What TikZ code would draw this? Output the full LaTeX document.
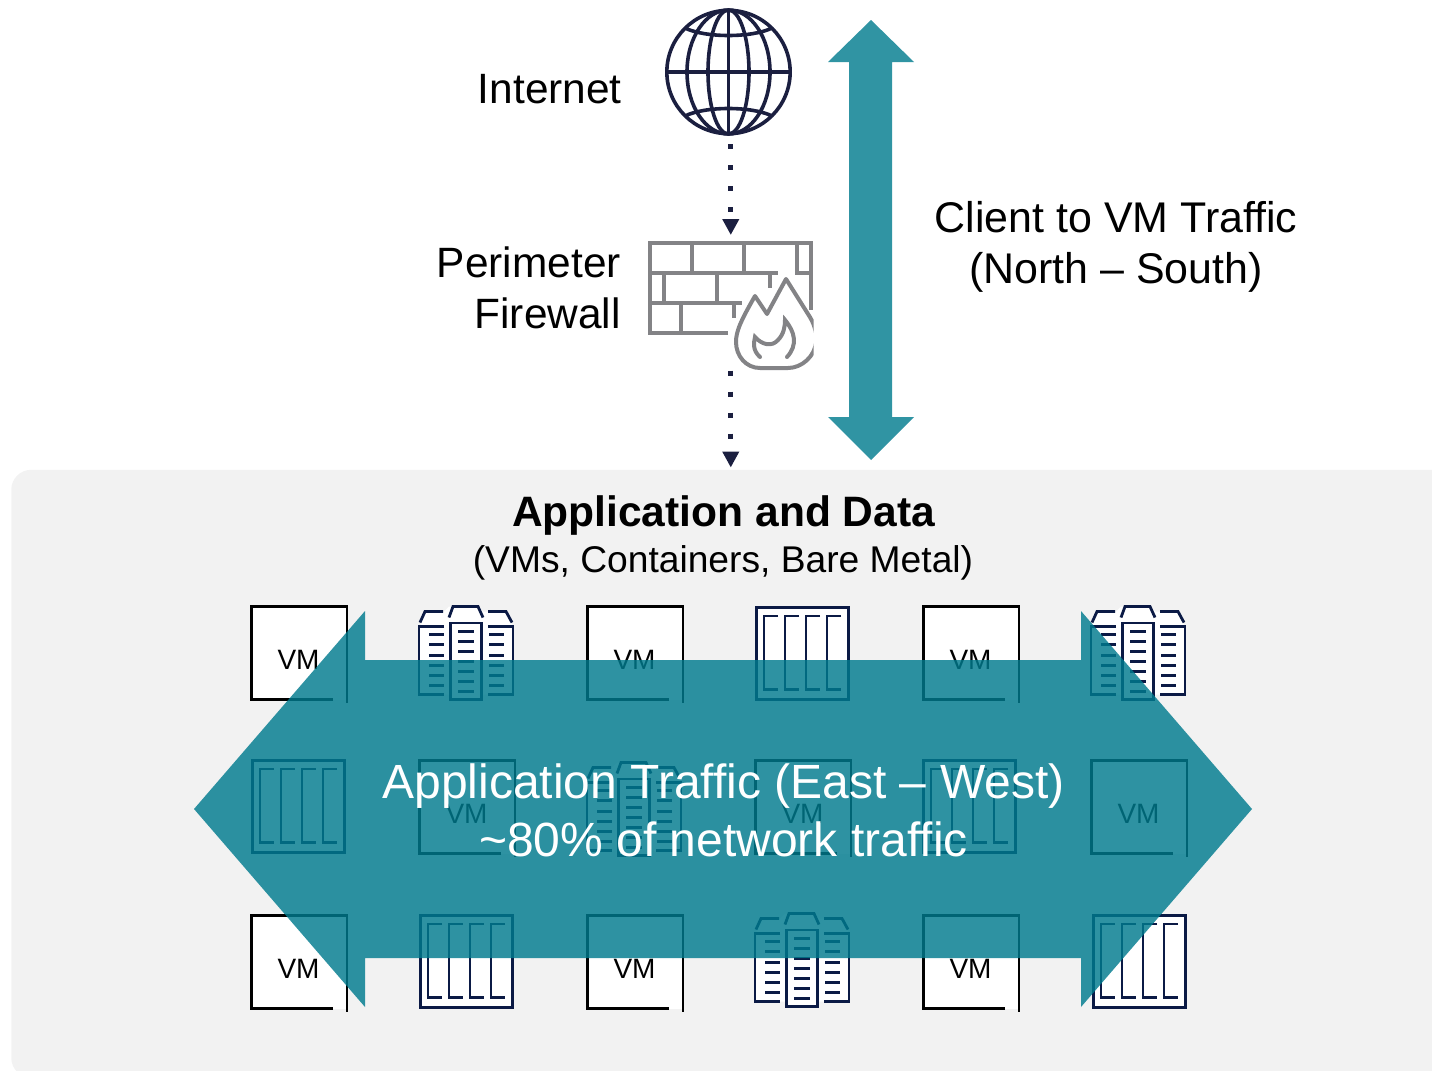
\documentclass[tikz,border=0pt]{standalone}
\usepackage{fontspec}
\setmainfont{Liberation Sans}
\usetikzlibrary{arrows.meta,calc}
\definecolor{tealink}{HTML}{007B8E}
\definecolor{navy}{HTML}{0B1A45}
\definecolor{globeink}{HTML}{1B1F40}
\definecolor{wallgray}{HTML}{838386}
\definecolor{panelgray}{HTML}{F2F2F2}
\newcommand{\fsz}[2]{\fontsize{#1pt}{#2pt}\selectfont}
\tikzset{
  px/.style={line width=#1*0.75pt},
  textlabel/.style={inner sep=0pt,text=black,font=\fsz{31.8}{38.25}},
  flowlink/.style={draw=globeink,px=5,dash pattern=on 3.75pt off 12pt,-{Triangle[length=12pt,width=12pt]}},
  bigarrow/.style={fill=tealink,opacity=0.81},
  vmline/.style={draw=black,px=2.8,line cap=butt},
  rackline/.style={draw=navy,px=2.8},
  slotline/.style={draw=navy,px=3.3},
  wall/.style={draw=wallgray,px=4},
  globeline/.style={draw=globeink,px=3.6},
}
\newcommand{\vmicon}[3]{%
  \begin{scope}[shift={(#2,#3)}]
    \fill[white] (1.3,0.5) rectangle (97,93.5);
    \draw[vmline] (83,93.5) -- (1.3,93.5) -- (1.3,0.5) -- (97,0.5) -- (97,96.5);
    \node[inner sep=0pt,font=\fsz{21}{25}] (#1) at (48.5,54) {VM};
  \end{scope}}
\newcommand{\rackicon}[3]{%
  \begin{scope}[shift={(#2,#3)}]
    \node[draw=navy,fill=white,px=2.8,minimum width=69pt,minimum height=69pt,inner sep=0pt,anchor=north west] (#1) at (0,0) {};
    \foreach \bx in {9,30,51,72}
      \draw[rackline] (\bx+14,10) -- (\bx,10) -- (\bx,83.5) -- (\bx+14,83.5);
  \end{scope}}
\newcommand{\servericon}[3]{%
  \begin{scope}[shift={(#2,#3+0.5)}]
    \fill[white,draw=none] (2,20) -- (7,5) -- (26,5) -- (31,0) -- (60,0) -- (65,5) -- (88,5) -- (95,20) -- (95,88) -- (65,88) -- (65,94) -- (31,94) -- (31,88) -- (1,88) -- cycle;
    \node[draw=navy,px=2.8,minimum width=23.4pt,minimum height=57.6pt,inner sep=0pt,anchor=north west] (#1) at (31,15) {};
    \draw[rackline] (26,20) -- (1,20) -- (1,88) -- (26,88);
    \draw[rackline] (70,20) -- (95,20) -- (95,88) -- (70,88);
    \draw[rackline] (2,16) -- (7,5) -- (25,5);
    \draw[rackline] (31,11) -- (35,0) -- (60,0) -- (65,11);
    \draw[rackline] (70,5) -- (88,5) -- (94,16);
    \foreach \ly in {28,38,49,59,69,79} {
      \draw[slotline] (11,\ly) -- (26,\ly);
      \draw[slotline] (71,\ly) -- (86,\ly);
    }
    \foreach \ly in {25,35,45,55,65,75,85}
      \draw[slotline] (40,\ly) -- (56,\ly);
  \end{scope}}
\begin{document}
\begin{tikzpicture}[x=0.75pt,y=-0.75pt]
\useasboundingbox (0,0) rectangle (1432,1071);
\clip (0,0) rectangle (1432,1071);
% panel
\node[fill=panelgray,rounded corners=15pt,inner sep=0pt,minimum width=1094pt,minimum height=456pt,anchor=north west] (panel) at (11,469.5) {};
% globe
\node[globeline,circle,minimum size=92.5pt,inner sep=0pt] (globe) at (728.5,72) {};
\draw[globeline] (globe.center) ellipse [x radius=20.5,y radius=62];
\draw[globeline] (globe.center) ellipse [x radius=41.5,y radius=62];
\draw[globeline] (globe.north) -- (globe.south);
\draw[globeline] (globe.west) -- (globe.east);
\draw[globeline] (685,28) .. controls (705,38) and (752,38) .. (772,28);
\draw[globeline] (685,116) .. controls (705,106) and (752,106) .. (772,116);
% firewall
\node[inner sep=0pt,minimum width=123.75pt,minimum height=96.75pt,anchor=north west] (fw) at (648,241) {};
\draw[wall] (728,333) -- (650,333) -- (650,243) -- (811,243) -- (811,310);
\draw[wall] (650,273) -- (778,273) (795,273) -- (811,273);
\draw[wall] (650,303) -- (742,303);
\draw[wall] (692,243) -- (692,273) (744,243) -- (744,273) (797,243) -- (797,273);
\draw[wall] (664,273) -- (664,303) (717,273) -- (717,303) (770,273) -- (770,288);
\draw[wall] (681,303) -- (681,333) (734,303) -- (734,318);
\begin{scope}
\clip (725,270) rectangle (813.5,372);
\draw[wall,line join=round] (786,279) -- (808,314) .. controls (814,323) and (817,332) .. (816,342)
  .. controls (815,356) and (802,368) .. (788,368) -- (760,368)
  .. controls (746,368) and (736,356) .. (736,342) .. controls (736,332) and (740,322) .. (755,296)
  -- (767,314) -- cycle;
\end{scope}
\draw[wall,line cap=round] (760,357) .. controls (752,350) and (754,342) .. (755,337)
  .. controls (762,345) and (772,347) .. (778,340) .. controls (784,334) and (785,326) .. (785,320)
  .. controls (795,332) and (798,345) .. (787,357);
% links
\draw[flowlink,shorten <=6.75pt,shorten >=4.5pt] (globe.south -| fw.north) -- (fw.north);
\draw[flowlink,shorten >=1.5pt] (fw.south) -- (fw.south |- panel.north);
% north-south arrow
\path[bigarrow] (871,20) -- (914,62) -- (892,62) -- (892,417) -- (914,417) -- (871,460) -- (828,417) -- (849,417) -- (849,62) -- (828,62) -- cycle;
% labels
\node[textlabel,anchor=east,align=right] (internet) at (622,89) {Internet};
\node[textlabel,anchor=east,align=right] (perimeter) at (621,288) {Perimeter\\Firewall};
\node[textlabel,align=center,font=\fsz{32.2}{38.25}] (client) at (1116,247) {Client to VM Traffic\\(North – South)};
\node[inner sep=0pt,font=\fsz{31.9}{38}\bfseries] (apptitle) at (723.5,515.5) {Application and Data};
\node[inner sep=0pt,font=\fsz{27.9}{33}] (appsub) at (723,563) {(VMs, Containers, Bare Metal)};
% icons
\vmicon{v11}{250}{606}
\servericon{s12}{418}{606}
\vmicon{v13}{586}{606}
\rackicon{r14}{755}{606}
\vmicon{v15}{922}{606}
\servericon{s16}{1090}{606}
\rackicon{r21}{251}{759}
\vmicon{v22}{418}{760}
\servericon{s23}{586}{762}
\vmicon{v24}{754}{760}
\rackicon{r25}{922}{759}
\vmicon{v26}{1090}{760}
\vmicon{v31}{250}{915}
\rackicon{r32}{419}{914}
\vmicon{v33}{586}{915}
\servericon{s34}{754}{913}
\vmicon{v35}{922}{915}
\rackicon{r36}{1092}{914}
% east-west arrow
\path[bigarrow,opacity=0.82] (194,809) -- (365,611) -- (365,660) -- (1081,660) -- (1081,611) -- (1252,809) -- (1081,1007) -- (1081,958) -- (365,958) -- (365,1007) -- cycle;
\node[inner sep=0pt,text=white,align=center,font=\fsz{36}{43.5}] (ewlabel) at (723.5,810) {Application Traffic (East – West)\\\textasciitilde80\% of network traffic};
\end{tikzpicture}
\end{document}
